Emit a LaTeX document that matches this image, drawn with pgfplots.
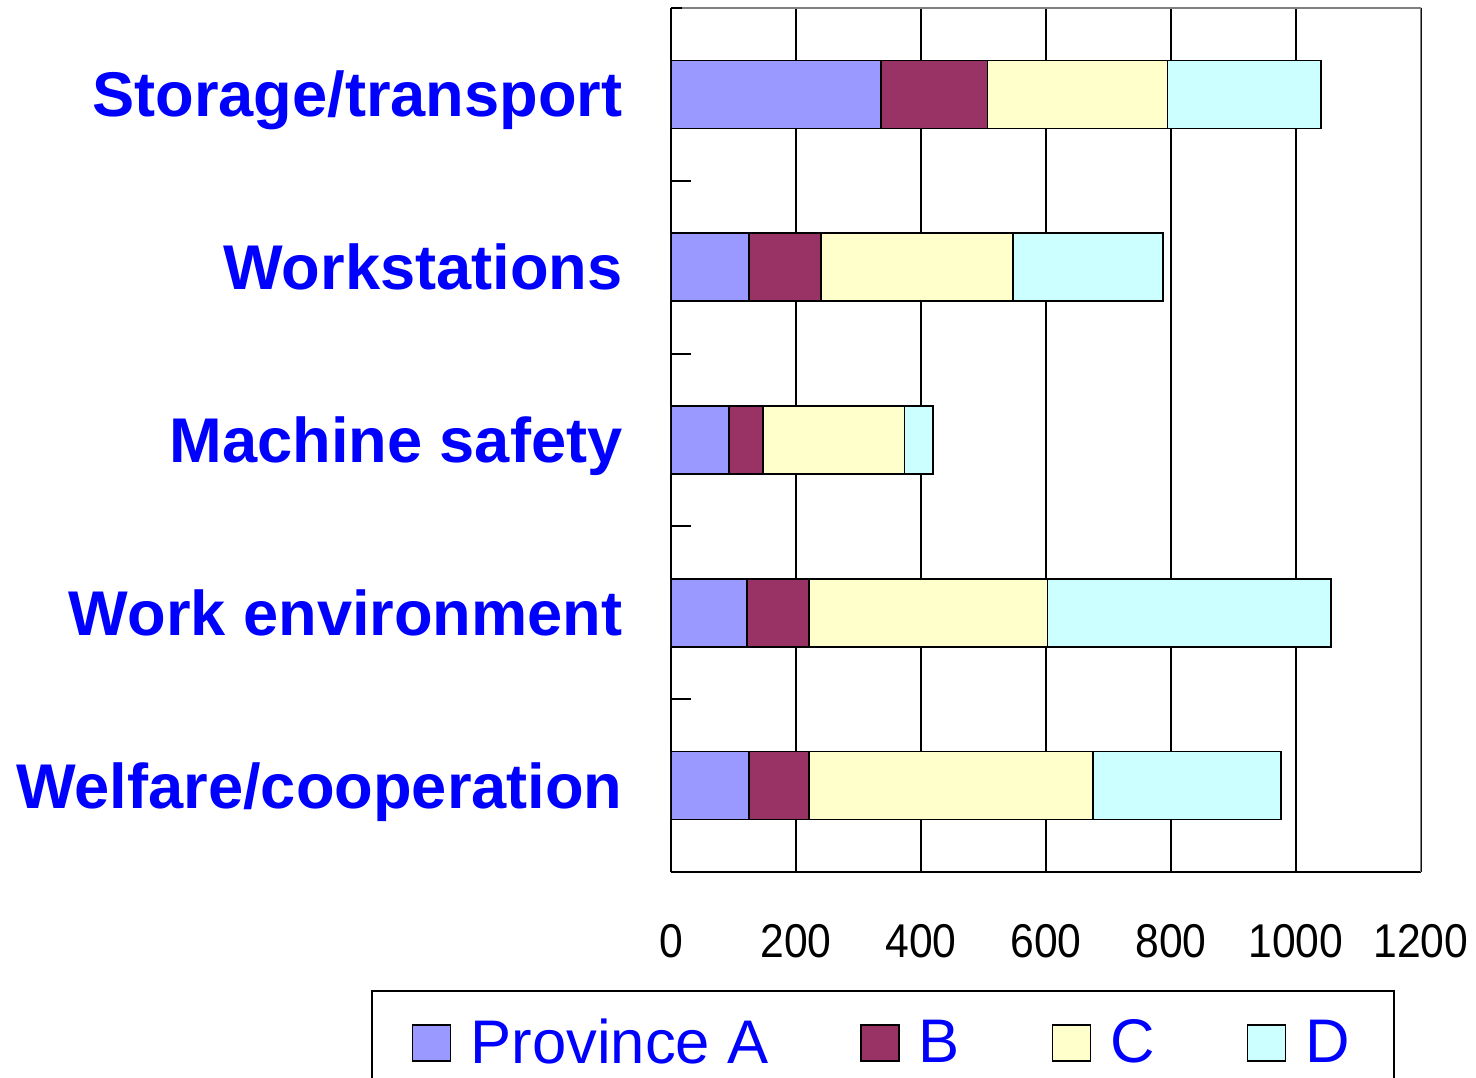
\documentclass[border=0pt]{standalone}
\usepackage{fontspec}
\setmainfont{Liberation Sans}
\newfontfamily\narrowfont[FakeStretch=0.9]{Liberation Sans}
\usepackage{pgfplots}
\pgfplotsset{compat=1.18}
\definecolor{cA}{HTML}{9999FF}
\definecolor{cB}{HTML}{993366}
\definecolor{cC}{HTML}{FFFFCC}
\definecolor{cD}{HTML}{CCFFFF}
\begin{document}
\begin{tikzpicture}
\path[use as bounding box] (-335.5pt,-102.5pt) rectangle (402.5pt,436pt);
\begin{axis}[
  at={(0pt,0pt)}, anchor=south west,
  scale only axis, width=375pt, height=432pt,
  xbar stacked, bar width=34pt,
  xmin=0, xmax=1200, ymin=-0.5, ymax=4.5,
  axis x line*=bottom, axis y line*=left,
  axis line style={black, line width=1pt, -},
  xtick={0,200,...,1200},
  xmajorgrids, major grid style={black, line width=0.75pt},
  major tick length=0pt, minor tick length=10pt,
  tick align=inside,
  minor ytick={-0.5,0.5,1.5,2.5,3.5,4.5},
  minor tick style={black, line width=1pt},
  xtick pos=left, ytick pos=left,
  ytick={0,1,2,3,4},
  yticklabels={Welfare/cooperation, Work environment, Machine safety, Workstations, Storage/transport},
  yticklabel style={font=\fontsize{31.6}{31.6}\selectfont\bfseries, text=blue, anchor=base east, inner sep=0pt, xshift=-24pt, yshift=-11.3pt},
  xticklabel style={font=\narrowfont\fontsize{23.7}{23.7}\selectfont, anchor=base, inner sep=0pt, yshift=-42.5pt},
  /pgf/number format/assume math mode=true,
  /pgf/number format/1000 sep={},
  scaled x ticks=false,
  legend columns=4,
  legend image code/.code={\draw[#1, draw=black, line width=0.75pt] (0pt,-9pt) rectangle (19pt,9pt);},
  legend style={at={(rel axis cs:-0.4,-0.1366)}, anchor=north west, draw=black, line width=1pt,
    font=\fontsize{30.8}{30.8}\selectfont, text=blue, inner xsep=20pt, inner ysep=12pt,
    /tikz/every odd column/.append style={column sep=7.5pt},
    /tikz/every even column/.append style={column sep=44pt}},
]
\addplot[fill=cA, draw=black, line width=0.75pt] coordinates {(125,0) (122,1) (93,2) (125,3) (336,4)};
\addplot[fill=cB, draw=black, line width=0.75pt] coordinates {(96,0) (99,1) (54,2) (115,3) (170,4)};
\addplot[fill=cC, draw=black, line width=0.75pt] coordinates {(454,0) (381,1) (227,2) (307,3) (288,4)};
\addplot[fill=cD, draw=black, line width=0.75pt] coordinates {(301,0) (454,1) (45,2) (240,3) (246,4)};
\legend{Province A, B, C, D}
\draw[gray, line width=1pt] (rel axis cs:0.015,1) -- (rel axis cs:1,1) -- (rel axis cs:1,0);
\end{axis}
\end{tikzpicture}
\end{document}
